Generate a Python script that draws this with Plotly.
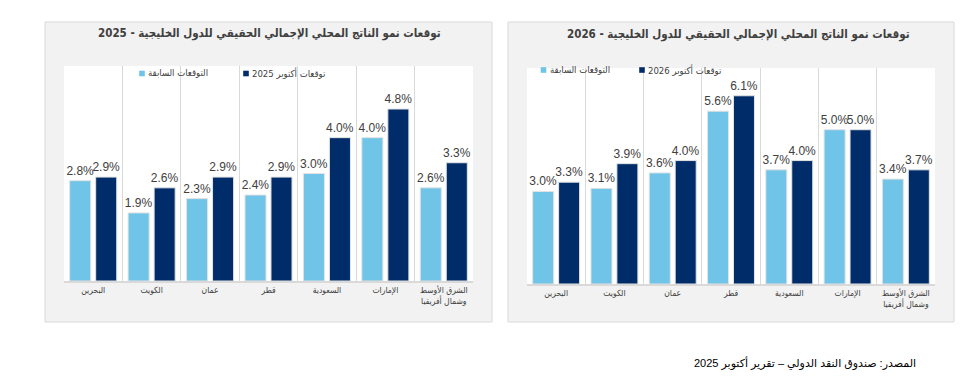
import plotly.graph_objects as go

W, H = 979, 387

categories = ["البحرين", "الكويت", "عمان", "قطر", "السعودية", "الإمارات",
              "الشرق الأوسط<br>وشمال أفريقيا"]

prev_2025 = [2.8, 1.9, 2.3, 2.4, 3.0, 4.0, 2.6]
oct_2025 = [2.9, 2.6, 2.9, 2.9, 4.0, 4.8, 3.3]

prev_2026 = [3.0, 3.1, 3.6, 5.6, 3.7, 5.0, 3.4]
oct_2026 = [3.3, 3.9, 4.0, 6.1, 4.0, 5.0, 3.7]

title_2025 = "توقعات نمو الناتج المحلي الإجمالي الحقيقي للدول الخليجية - 2025"
title_2026 = "توقعات نمو الناتج المحلي الإجمالي الحقيقي للدول الخليجية - 2026"
legend_prev = "التوقعات السابقة"
legend_oct_2025 = "توقعات أكتوبر 2025"
legend_oct_2026 = "توقعات أكتوبر 2026"
source_text = "المصدر: صندوق النقد الدولي – تقرير أكتوبر 2025"

LIGHT = "#70C4E8"
DARK = "#002D6A"
TXT = "#404040"
GRID = "#D9D9D9"
FONT = "Arial, 'Liberation Sans', 'DejaVu Sans', sans-serif"
AFONT = "'DejaVu Sans Condensed', 'DejaVu Sans', sans-serif"


def px(x):
    return x / W


def py(y):
    return 1 - y / H


fig = go.Figure()


def add_bars(vals, color, name, xa, ya):
    fig.add_trace(go.Bar(
        x=categories, y=vals, name=name, xaxis=xa, yaxis=ya,
        marker=dict(color=color, line=dict(color="#E3E3E3", width=1)),
        texttemplate="%{y:.1f}%", textposition="outside",
        constraintext="none", cliponaxis=False,
        textfont=dict(family=FONT, size=12, color=TXT),
        showlegend=False,
    ))


add_bars(prev_2025, LIGHT, legend_prev, "x", "y")
add_bars(oct_2025, DARK, legend_oct_2025, "x", "y")
add_bars(prev_2026, LIGHT, legend_prev, "x2", "y2")
add_bars(oct_2026, DARK, legend_oct_2026, "x2", "y2")

xcommon = dict(type="category", tickson="boundaries", showgrid=True,
               gridcolor=GRID, gridwidth=1, showline=True, linecolor=GRID,
               linewidth=1.5, ticks="", tickangle=0,
               tickfont=dict(family=AFONT, size=8.5, color=TXT),
               fixedrange=True)
ycommon = dict(showgrid=False, showticklabels=False, zeroline=False,
               showline=False, ticks="", fixedrange=True)

shapes = [
    dict(type="rect", xref="paper", yref="paper", x0=px(45), x1=px(492),
         y0=py(322), y1=py(22), fillcolor="#F2F2F2", line=dict(color=GRID, width=1),
         layer="below"),
    dict(type="rect", xref="paper", yref="paper", x0=px(508), x1=px(954),
         y0=py(322), y1=py(22), fillcolor="#F2F2F2", line=dict(color=GRID, width=1),
         layer="below"),
    dict(type="rect", xref="x domain", yref="y domain", x0=0, x1=1, y0=0, y1=1,
         fillcolor="white", line=dict(width=0), layer="below"),
    dict(type="rect", xref="x2 domain", yref="y2 domain", x0=0, x1=1, y0=0, y1=1,
         fillcolor="white", line=dict(width=0), layer="below"),
]


def legend_square(cx, cy, color):
    shapes.append(dict(type="rect", xref="paper", yref="paper",
                       x0=px(cx - 2.8), x1=px(cx + 2.8), y0=py(cy + 2.8), y1=py(cy - 2.8),
                       fillcolor=color, line=dict(width=0)))


legend_square(142, 73.5, LIGHT)
legend_square(246, 73.5, DARK)
legend_square(543.5, 70, LIGHT)
legend_square(642, 70, DARK)

annotations = []


def text(x, y, s, size, color=TXT, anchor="left", bold=False, family=AFONT):
    annotations.append(dict(
        x=px(x), y=py(y), xref="paper", yref="paper", text=("<b>%s</b>" % s) if bold else s,
        showarrow=False, xanchor=anchor, yanchor="middle",
        font=dict(family=family, size=size, color=color)))


text(269, 33.5, title_2025, 11.5, anchor="center", bold=True)
text(738, 34.5, title_2026, 11.5, anchor="center", bold=True)
text(146, 73, legend_prev, 9.5)
text(250, 73, legend_oct_2025, 9.5)
text(547.5, 70, legend_prev, 9.5)
text(646, 70, legend_oct_2026, 9.5)
text(918, 363, source_text, 11, color="#000000", anchor="right", family=FONT)

fig.update_layout(
    width=W, height=H,
    margin=dict(l=0, r=0, t=0, b=0),
    paper_bgcolor="white", plot_bgcolor="rgba(0,0,0,0)",
    barmode="group", bargap=0.11, bargroupgap=0.19,
    xaxis=dict(domain=[px(64), px(473)], anchor="y", **xcommon),
    yaxis=dict(domain=[py(281), py(66)], range=[0, 6], anchor="x", **ycommon),
    xaxis2=dict(domain=[px(527), px(935)], anchor="y2", **xcommon),
    yaxis2=dict(domain=[py(284), py(68)], range=[0, 7], anchor="x2", **ycommon),
    shapes=shapes, annotations=annotations,
    font=dict(family=FONT, color=TXT),
)

fig.write_html("out.html", config={"displayModeBar": False},
               post_script="document.body.style.margin='0';")
